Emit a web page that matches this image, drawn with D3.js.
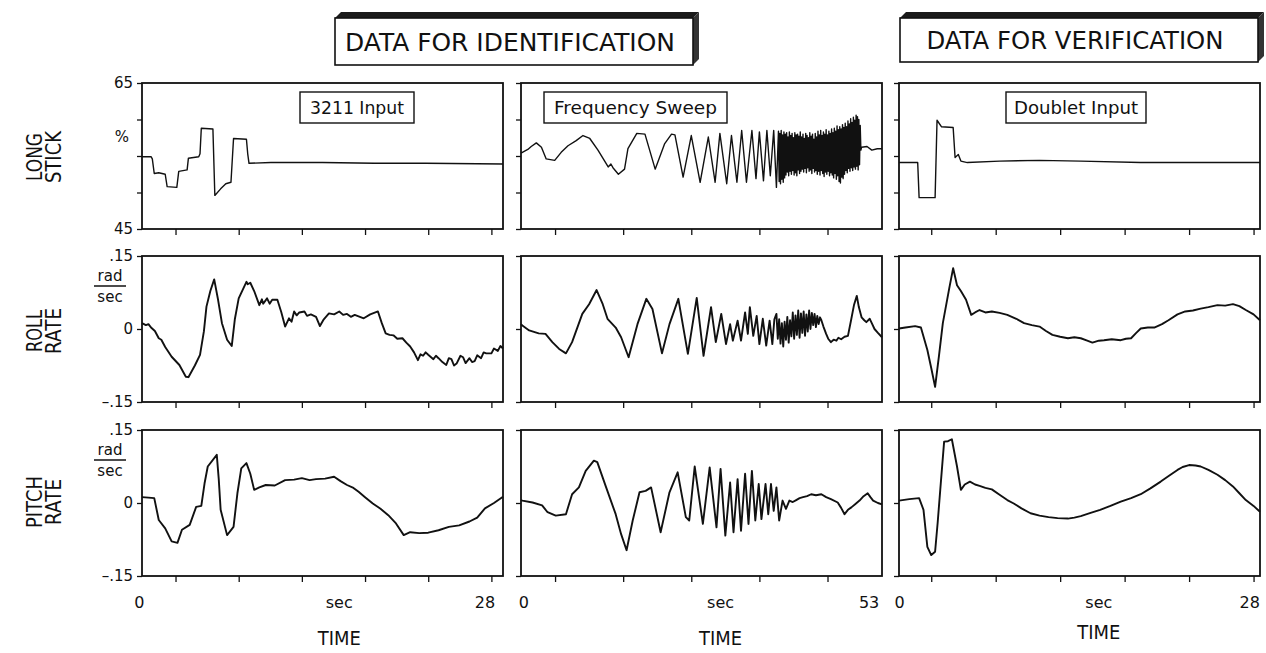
<!DOCTYPE html>
<html>
<head>
<meta charset="utf-8">
<script src="https://cdn.jsdelivr.net/npm/d3@7"></script>
<style>
  body { margin: 0; background: #fff; }
  svg text { font-family: "DejaVu Sans", sans-serif; fill: #111; }
</style>
</head>
<body>
<div id="chart"></div>
<script>
/* DATA (time in sec, value) */
const columnTitles = ["DATA FOR IDENTIFICATION", "DATA FOR VERIFICATION"];
const inputLabels = ["3211 Input", "Frequency Sweep", "Doublet Input"];
const rowLabels = [["LONG", "STICK"], ["ROLL", "RATE"], ["PITCH", "RATE"]];
const timeEnds = [28, 53, 28];
const timeEndLabels = ["28", "53", "28"];
const xTickValues = [
  [2.6, 7.5, 12.4, 17.3, 22.2, 27.1],
  [5, 15, 25, 35, 45],
  [2.5, 7.5, 12.5, 17.5, 22.5, 27.5]
];
const stickDomain = [45, 65];
const rateDomain = [-0.15, 0.15];
const stickTicks = [65, 60, 55, 50, 45];
const rateTicks = [0.15, 0, -0.15];
const stickTickLabels = [[65, "65"], [45, "45"]];
const rateTickLabels = [[0.15, ".15"], [0, "0"], [-0.15, "–.15"]];

const stick3211 = [[0,54.9],[0.7,54.9],[0.8,54.6],[0.95,52.6],[1.3,52.7],[1.8,52.5],[1.95,50.8],[2.7,50.7],[2.85,52.9],[3.5,53.1],[3.6,54.7],[4.4,54.9],[4.5,55.3],[4.6,58.8],[5.5,58.7],[5.65,49.6],[6.1,50.5],[6.5,51.2],[6.9,51.4],[7.1,57.4],[8.1,57.3],[8.2,55.3],[8.3,54.0],[10,54.1],[14,54.1],[18,54.0],[22,54.0],[28,53.9]];

const stickSweep = [[0,55.4],[1.0,55.9],[1.5,56.3],[2.25,56.8],[3.0,56.2],[3.7,54.6],[4.95,54.4],[5.9,55.5],[6.9,56.4],[8.1,57.1],[9.1,57.8],[10.1,57.4],[11.3,55.8],[12.8,53.5],[13.2,53.9],[13.5,53.4],[14.3,52.5],[15.2,53.2],[15.7,56.0],[17.0,58.1],[18.2,58.0],[19.7,53.2],[21.1,56.7],[22.1,58.0],[22.6,57.9],[23.8,52.1],[25.0,57.8],[26.3,51.4],[27.5,57.6],[28.5,51.4],[29.2,58.1],[30.2,51.2],[30.9,57.8],[31.7,51.4],[32.4,58.5],[33.1,51.4],[33.9,58.5],[34.5,51.9],[35.0,58.3],[35.6,51.6],[36.1,58.5],[36.6,52.3],[37.1,58.5],[37.5,50.7],
  [37.8,58.4],[37.9,51.5],[38.0,58.1],[38.1,51.2],[38.2,58.5],[38.3,51.8],[38.4,57.9],[38.5,51.4],[38.6,58.3],[38.7,52.0],[38.8,58.0],[38.9,52.4],[39.0,58.2],[39.1,52.8],[39.2,57.6],[39.3,52.3],[39.4,58.3],[39.5,52.9],[39.6,57.8],[39.7,52.5],[39.8,58.1],[39.9,53.0],[40.0,57.5],[40.1,52.4],[40.2,58.2],[40.3,52.7],[40.4,57.9],[40.5,52.3],[40.6,58.0],[40.7,53.1],[40.8,57.7],[40.9,52.6],[41.0,58.3],[41.1,52.9],[41.2,57.6],[41.3,53.2],[41.4,58.0],[41.5,52.8],[41.6,57.4],[41.7,53.3],[41.8,58.1],[41.9,52.7],[42.0,57.8],[42.1,53.4],[42.2,57.5],[42.3,52.9],[42.4,58.2],[42.5,53.1],[42.6,57.7],[42.7,52.6],[42.8,58.0],[42.9,53.3],[43.0,57.3],[43.1,52.8],[43.2,58.1],[43.3,53.0],[43.4,57.6],[43.5,52.5],[43.6,58.4],[43.7,52.9],[43.8,57.9],[43.9,52.4],[44.0,58.5],[44.1,53.0],[44.2,57.8],[44.3,52.6],[44.4,58.3],[44.5,52.2],[44.6,58.0],[44.7,52.8],[44.8,58.6],[44.9,52.5],[45.0,57.9],[45.1,52.9],[45.2,58.4],[45.3,52.3],[45.4,58.1],[45.5,52.7],[45.6,58.7],[45.7,52.4],[45.8,58.2],[45.9,52.0],[46.0,58.8],[46.1,52.6],[46.2,58.4],[46.3,51.8],[46.4,59.1],[46.5,52.3],[46.6,58.6],[46.7,51.5],[46.8,59.0],[46.9,51.3],[47.0,58.7],[47.1,52.1],[47.2,59.3],[47.3,51.9],[47.4,58.9],[47.5,52.5],[47.6,59.5],[47.7,53.0],[47.8,59.0],[47.9,52.7],[48.0,59.8],[48.1,53.3],[48.2,59.4],[48.3,52.9],[48.4,60.1],[48.5,53.4],[48.6,59.6],[48.7,53.0],[48.8,60.3],[48.9,53.5],[49.0,59.9],[49.1,53.2],[49.2,60.6],[49.3,53.6],[49.4,60.4],[49.5,53.1],[49.6,60.0],[49.7,53.8],[49.8,59.2],[49.9,55.8],
  [50.0,56.2],[50.8,56.3],[51.5,55.8],[52.3,56.0],[53,56.0]];

const stickDoublet = [[0,54.1],[1.45,54.1],[1.56,49.3],[2.8,49.3],[2.95,59.9],[3.3,59.0],[4.2,58.9],[4.35,54.8],[4.6,55.2],[4.8,54.3],[5.3,54.1],[7.8,54.3],[10.9,54.4],[14.1,54.3],[18.75,54.1],[21.9,54.1],[28,54.1]];

const roll3211 = [[0,0.012],[0.3,0.008],[0.5,0.010],[0.7,0.003],[1.0,-0.004],[1.3,-0.019],[1.5,-0.022],[1.8,-0.037],[2.3,-0.057],[2.9,-0.074],[3.4,-0.098],[3.6,-0.099],[4.1,-0.075],[4.5,-0.053],[4.8,-0.005],[5.0,0.046],[5.3,0.078],[5.6,0.102],[5.9,0.060],[6.2,0.012],[6.6,-0.022],[6.96,-0.035],[7.2,0.020],[7.5,0.063],[8.1,0.097],[8.2,0.092],[8.4,0.095],[8.7,0.078],[9.1,0.049],[9.3,0.061],[9.4,0.052],[9.7,0.063],[9.9,0.052],[10.1,0.060],[10.5,0.060],[10.8,0.035],[11.1,0.005],[11.4,0.022],[11.6,0.015],[11.8,0.036],[12.0,0.028],[12.2,0.034],[12.6,0.036],[12.8,0.027],[13.1,0.030],[13.5,0.025],[13.8,0.006],[14.1,0.020],[14.5,0.032],[14.9,0.030],[15.3,0.036],[15.6,0.029],[15.9,0.031],[16.2,0.025],[16.5,0.029],[17.2,0.022],[17.7,0.030],[18.3,0.036],[18.6,0.012],[18.9,-0.009],[19.2,-0.012],[19.5,-0.013],[19.8,-0.020],[20.2,-0.019],[20.5,-0.028],[20.8,-0.036],[21.1,-0.048],[21.4,-0.064],[21.6,-0.052],[21.8,-0.055],[22.0,-0.048],[22.2,-0.053],[22.6,-0.062],[22.8,-0.055],[23.0,-0.060],[23.3,-0.068],[23.6,-0.074],[23.8,-0.060],[24.0,-0.062],[24.2,-0.075],[24.4,-0.071],[24.7,-0.055],[24.9,-0.058],[25.1,-0.070],[25.4,-0.060],[25.6,-0.068],[25.8,-0.066],[26.0,-0.054],[26.3,-0.060],[26.5,-0.048],[26.7,-0.050],[27.1,-0.050],[27.3,-0.040],[27.6,-0.045],[27.8,-0.035],[28.0,-0.040]];

const rollSweep = [[0,0.010],[0.2,0.007],[1.2,-0.003],[2.6,-0.009],[3.6,-0.010],[4.6,-0.027],[5.6,-0.041],[6.6,-0.050],[7.5,-0.027],[9.0,0.031],[10.0,0.051],[11.1,0.080],[12.0,0.051],[12.7,0.021],[13.9,0.003],[14.7,-0.017],[15.8,-0.058],[17.1,0.010],[18.4,0.062],[19.3,0.041],[20.7,-0.050],[21.8,0.010],[23.1,0.062],[24.5,-0.051],[25.8,0.064],[26.8,-0.055],[27.9,0.045],[28.6,-0.027],[29.4,0.031],[30.1,-0.031],[30.7,0.010],[31.1,-0.024],[31.8,0.017],[32.3,-0.024],[32.9,0.034],[33.3,-0.010],[33.6,0.045],[34.1,-0.014],[34.6,0.027],[35.0,-0.031],[35.5,0.021],[36.0,-0.034],[36.5,0.017],[36.9,-0.031],[37.2,0.020],[37.5,0.031],
  [37.7,-0.020],[37.9,0.020],[38.1,-0.030],[38.3,0.012],[38.5,-0.036],[38.7,0.015],[38.9,-0.022],[39.1,0.025],[39.3,-0.028],[39.5,0.018],[39.7,-0.015],[39.9,0.034],[40.1,-0.020],[40.3,0.028],[40.5,-0.012],[40.7,0.038],[40.9,-0.018],[41.1,0.032],[41.3,-0.008],[41.5,0.036],[41.7,-0.014],[41.9,0.030],[42.1,-0.005],[42.3,0.038],[42.5,0.000],[42.7,0.033],[42.9,0.008],[43.1,0.031],[43.3,0.004],[43.5,0.027],[43.7,0.010],[43.9,0.024],[44.1,0.018],[44.4,0.005],[44.8,-0.010],[45.1,-0.020],[45.5,-0.027],[45.9,-0.022],[46.3,-0.024],[46.6,-0.018],[47.0,-0.021],[47.5,-0.016],[48.0,-0.014],[48.5,0.021],[48.9,0.050],[49.3,0.068],[49.6,0.045],[50.0,0.024],[50.4,0.018],[50.7,0.014],[51.2,0.021],[51.5,0.012],[51.9,0.000],[52.4,-0.008],[53.0,-0.017]];

const rollDoublet = [[0,0.001],[0.5,0.003],[1.25,0.006],[1.7,0.003],[2.2,-0.043],[2.5,-0.080],[2.8,-0.119],[3.1,-0.055],[3.4,0.012],[3.9,0.084],[4.2,0.125],[4.5,0.090],[4.8,0.078],[5.2,0.060],[5.6,0.029],[5.9,0.034],[6.25,0.039],[6.7,0.034],[7.2,0.036],[7.8,0.033],[8.4,0.029],[9.1,0.021],[9.7,0.012],[10.3,0.008],[10.9,0.005],[11.4,-0.004],[11.9,-0.012],[12.5,-0.016],[13.1,-0.019],[13.6,-0.017],[14.1,-0.019],[14.6,-0.024],[15.0,-0.028],[15.5,-0.024],[15.9,-0.023],[16.5,-0.021],[17.2,-0.023],[17.6,-0.020],[18.0,-0.019],[18.4,-0.008],[18.75,0.001],[19.3,0.003],[19.8,0.003],[20.4,0.010],[20.9,0.018],[21.6,0.030],[22.2,0.036],[22.8,0.038],[23.4,0.042],[24.0,0.045],[24.7,0.049],[25.3,0.048],[25.9,0.051],[26.4,0.047],[26.9,0.039],[27.5,0.030],[28.0,0.018]];

const pitch3211 = [[0,0.012],[0.5,0.011],[0.95,0.010],[1.3,-0.035],[1.8,-0.052],[2.3,-0.079],[2.75,-0.082],[3.1,-0.055],[3.7,-0.045],[4.2,-0.008],[4.6,-0.006],[4.85,0.040],[5.1,0.075],[5.8,0.099],[5.95,0.050],[6.1,-0.014],[6.6,-0.066],[7.1,-0.049],[7.4,0.020],[7.7,0.071],[8.1,0.082],[8.4,0.060],[8.7,0.027],[9.1,0.032],[9.6,0.037],[10.3,0.036],[11.1,0.047],[11.8,0.048],[12.4,0.051],[13.0,0.047],[13.5,0.049],[14.2,0.050],[14.9,0.054],[15.4,0.045],[15.9,0.037],[16.4,0.031],[16.8,0.023],[17.3,0.012],[17.9,-0.001],[18.5,-0.012],[19.1,-0.025],[19.7,-0.042],[20.3,-0.066],[20.8,-0.060],[21.5,-0.062],[22.2,-0.061],[23.0,-0.056],[23.8,-0.049],[24.6,-0.046],[25.4,-0.038],[26.0,-0.030],[26.6,-0.011],[27.3,0.000],[28.0,0.013]];

const pitchSweep = [[0,0.006],[0.2,0.005],[1.7,0.001],[3.1,-0.005],[3.9,-0.019],[5.1,-0.026],[6.6,-0.023],[7.5,0.018],[8.5,0.032],[9.5,0.066],[10.7,0.087],[11.2,0.084],[12.5,0.032],[13.9,-0.023],[14.7,-0.064],[15.5,-0.097],[16.4,-0.036],[17.4,0.022],[18.3,0.025],[19.1,0.032],[20.5,-0.060],[21.8,0.022],[23.0,0.063],[24.2,-0.029],[24.7,-0.036],[25.5,0.075],[26.7,-0.043],[27.7,0.073],[28.7,-0.050],[29.3,0.070],[30.0,-0.067],[30.7,0.042],[31.2,-0.060],[31.8,0.049],[32.3,-0.057],[32.9,0.060],[33.4,-0.043],[33.9,0.066],[34.4,-0.036],[34.9,0.039],[35.3,-0.033],[35.9,0.039],[36.3,-0.023],[36.7,0.039],[37.1,-0.016],[37.5,0.032],[37.9,-0.036],[38.4,0.005],[38.9,-0.012],[39.4,0.005],[39.9,0.002],[40.4,0.006],[40.9,0.010],[41.4,0.012],[42.0,0.014],[42.6,0.018],[43.3,0.016],[44.1,0.018],[44.8,0.012],[45.5,0.008],[46.5,0.001],[47.0,-0.010],[47.5,-0.023],[48.0,-0.014],[48.5,-0.009],[49.1,-0.002],[49.7,0.005],[50.3,0.014],[50.9,0.020],[51.3,0.012],[51.7,0.005],[52.4,0.000],[53.0,-0.003]];

const pitchDoublet = [[0,0.005],[0.8,0.008],[1.56,0.010],[1.9,-0.014],[2.2,-0.090],[2.5,-0.107],[2.8,-0.100],[3.0,-0.040],[3.2,0.027],[3.5,0.126],[3.8,0.127],[4.1,0.131],[4.5,0.075],[4.8,0.027],[5.1,0.038],[5.5,0.044],[5.9,0.038],[6.25,0.035],[6.7,0.031],[7.2,0.028],[7.8,0.017],[8.4,0.006],[8.9,-0.001],[9.5,-0.011],[10.2,-0.021],[10.9,-0.026],[11.6,-0.029],[12.3,-0.031],[13.1,-0.032],[13.6,-0.030],[14.1,-0.027],[14.8,-0.021],[15.6,-0.014],[16.4,-0.006],[17.2,0.003],[18.0,0.010],[18.75,0.018],[19.5,0.030],[20.3,0.044],[21.0,0.057],[21.6,0.068],[22.0,0.074],[22.5,0.078],[23.0,0.077],[23.4,0.075],[24.0,0.068],[24.7,0.058],[25.3,0.047],[25.9,0.034],[26.4,0.020],[26.9,0.006],[27.5,-0.006],[28.0,-0.018]];

const series = [
  [stick3211, stickSweep, stickDoublet],
  [roll3211, rollSweep, rollDoublet],
  [pitch3211, pitchSweep, pitchDoublet]
];

/* LAYOUT */
const width = 1266, height = 653;
const colLeft = [142, 521, 899], colWidth = 361;
const rowTop = [83, 256, 430], rowHeight = 146;

let svg;

function init() {
  svg = d3.select("#chart")
    .append("svg")
    .attr("width", width)
    .attr("height", height);

  drawTitles();
  drawPanels();
  drawRowLabels();
}

function drawTitles() {
  const boxes = [
    { x: 335, y: 18, w: 358, h: 47, textLen: 330 },
    { x: 900, y: 18, w: 358, h: 44, textLen: 297 }
  ];
  const depth = 6;
  const g = svg.selectAll("g.title")
    .data(boxes)
    .join("g")
    .attr("class", "title");

  // top and right faces of the 3D box
  g.append("polygon")
    .attr("points", d => [[d.x, d.y], [d.x + depth, d.y - depth], [d.x + d.w + depth, d.y - depth], [d.x + d.w, d.y]].join(" "))
    .attr("fill", "#1a1a1a");
  g.append("polygon")
    .attr("points", d => [[d.x + d.w, d.y], [d.x + d.w + depth, d.y - depth], [d.x + d.w + depth, d.y + d.h - depth], [d.x + d.w, d.y + d.h]].join(" "))
    .attr("fill", "#333");
  g.append("rect")
    .attr("x", d => d.x).attr("y", d => d.y)
    .attr("width", d => d.w).attr("height", d => d.h)
    .attr("fill", "#fff")
    .attr("stroke", "#111")
    .attr("stroke-width", 1.6);
  g.append("text")
    .attr("x", d => d.x + d.w / 2 - 4)
    .attr("y", d => d.y + d.h / 2 + 9)
    .attr("text-anchor", "middle")
    .attr("font-size", 25)
    .attr("textLength", d => d.textLen)
    .attr("lengthAdjust", "spacingAndGlyphs")
    .text((d, i) => columnTitles[i]);
}

function drawPanels() {
  const inputBoxes = [
    { x: 300, w: 114, textLen: 94 },
    { x: 544, w: 183, textLen: 163 },
    { x: 1006, w: 140, textLen: 124 }
  ];
  const secAt = [15.3, 29.3, 15.5];
  const zeroAt = [-0.2, 0.4, 0.05];
  const endAt = [26.6, 51.1, 27.2];

  for (let r = 0; r < 3; r++) {
    for (let c = 0; c < 3; c++) {
      const xScale = d3.scaleLinear()
        .domain([0, timeEnds[c]])
        .range([colLeft[c], colLeft[c] + colWidth]);
      const yScale = d3.scaleLinear()
        .domain(r === 0 ? stickDomain : rateDomain)
        .range([rowTop[r] + rowHeight, rowTop[r]]);

      const panel = svg.append("g").attr("class", `panel r${r} c${c}`);

      // y ticks
      const yAxis = d3.axisLeft(yScale)
        .tickValues(r === 0 ? stickTicks : rateTicks)
        .tickSize(5)
        .tickFormat("");
      panel.append("g")
        .attr("transform", `translate(${colLeft[c]},0)`)
        .call(yAxis)
        .call(g => g.select(".domain").remove())
        .call(g => g.selectAll("line").attr("stroke", "#111").attr("stroke-width", 1.3));

      // x ticks
      const xAxis = d3.axisBottom(xScale)
        .tickValues(xTickValues[c])
        .tickSize(6)
        .tickFormat("");
      panel.append("g")
        .attr("transform", `translate(0,${rowTop[r] + rowHeight})`)
        .call(xAxis)
        .call(g => g.select(".domain").remove())
        .call(g => g.selectAll("line").attr("stroke", "#111").attr("stroke-width", 1.3));

      // frame
      panel.append("rect")
        .attr("x", colLeft[c])
        .attr("y", rowTop[r])
        .attr("width", colWidth)
        .attr("height", rowHeight)
        .attr("fill", "none")
        .attr("stroke", "#111")
        .attr("stroke-width", 1.8);

      // trace
      const lineGen = d3.line()
        .x(d => xScale(d[0]))
        .y(d => yScale(d[1]));
      panel.append("path")
        .datum(series[r][c])
        .attr("d", lineGen)
        .attr("fill", "none")
        .attr("stroke", "#111")
        .attr("stroke-width", r === 0 ? 1.4 : 1.9)
        .attr("stroke-linejoin", "round");

      // input label boxes
      if (r === 0) {
        const b = inputBoxes[c];
        panel.append("rect")
          .attr("x", b.x).attr("y", rowTop[r] + 9)
          .attr("width", b.w).attr("height", 31)
          .attr("fill", "#fff")
          .attr("stroke", "#111")
          .attr("stroke-width", 1.4);
        panel.append("text")
          .attr("x", b.x + b.w / 2)
          .attr("y", rowTop[r] + 31)
          .attr("text-anchor", "middle")
          .attr("font-size", 17)
          .attr("textLength", b.textLen)
          .attr("lengthAdjust", "spacingAndGlyphs")
          .text(inputLabels[c]);
      }

      // y tick labels only on first column
      if (c === 0) {
        panel.selectAll("text.ytl")
          .data(r === 0 ? stickTickLabels : rateTickLabels)
          .join("text")
          .attr("class", "ytl")
          .attr("x", colLeft[c] - 9)
          .attr("y", d => yScale(d[0]) + 5)
          .attr("text-anchor", "end")
          .attr("font-size", 15)
          .text(d => d[1]);

        if (r === 0) {
          panel.append("text")
            .attr("x", 122).attr("y", rowTop[r] + 59)
            .attr("text-anchor", "middle")
            .attr("font-size", 15)
            .text("%");
        } else {
          const cx = 110, top = rowTop[r];
          panel.append("text")
            .attr("x", cx).attr("y", top + 25)
            .attr("text-anchor", "middle").attr("font-size", 15)
            .text("rad");
          panel.append("line")
            .attr("x1", cx - 16).attr("x2", cx + 16)
            .attr("y1", top + 30).attr("y2", top + 30)
            .attr("stroke", "#111").attr("stroke-width", 1.5);
          panel.append("text")
            .attr("x", cx).attr("y", top + 46)
            .attr("text-anchor", "middle").attr("font-size", 15)
            .text("sec");
        }
      }

      // time axis labels under last row
      if (r === 2) {
        const base = rowTop[r] + rowHeight + 32;
        panel.append("text")
          .attr("x", xScale(zeroAt[c])).attr("y", base)
          .attr("text-anchor", "middle").attr("font-size", 16)
          .text("0");
        panel.append("text")
          .attr("x", xScale(secAt[c])).attr("y", base)
          .attr("text-anchor", "middle").attr("font-size", 16)
          .text("sec");
        panel.append("text")
          .attr("x", xScale(endAt[c])).attr("y", base)
          .attr("text-anchor", "middle").attr("font-size", 16)
          .text(timeEndLabels[c]);
        panel.append("text")
          .attr("x", xScale(secAt[c])).attr("y", c === 2 ? base + 31 : base + 37)
          .attr("text-anchor", "middle").attr("font-size", 20)
          .attr("textLength", 43)
          .attr("lengthAdjust", "spacingAndGlyphs")
          .text("TIME");
      }
    }
  }
}

function drawRowLabels() {
  const centers = [157, 331, 502];
  const lens = [[48, 52], [42, 46], [52, 46]];
  const g = svg.selectAll("g.rowlabel")
    .data(rowLabels)
    .join("g")
    .attr("class", "rowlabel");
  g.each(function (d, i) {
    d.forEach((word, k) => {
      d3.select(this).append("text")
        .attr("transform", `translate(${k === 0 ? 42 : 61},${centers[i]}) rotate(-90)`)
        .attr("text-anchor", "middle")
        .attr("font-size", 21)
        .attr("textLength", lens[i][k])
        .attr("lengthAdjust", "spacingAndGlyphs")
        .text(word);
    });
  });
}

init();
</script>
</body>
</html>
